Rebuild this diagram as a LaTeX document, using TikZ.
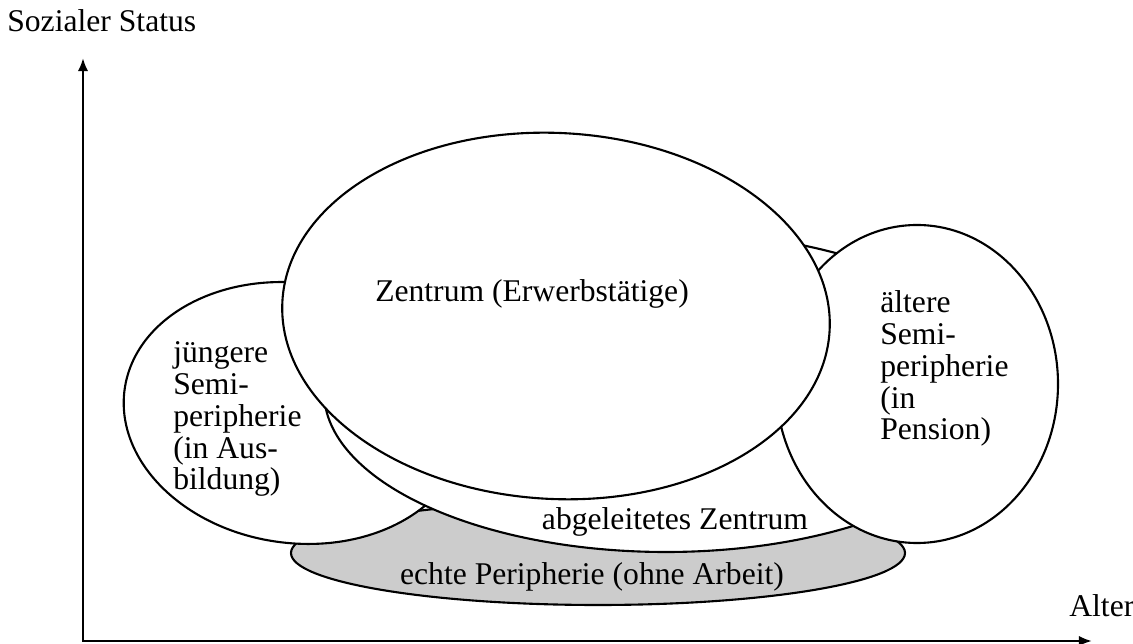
\documentclass[tikz,border=0pt]{standalone}
\usepackage{fontspec}
\setmainfont{Liberation Serif}
\usetikzlibrary{arrows.meta}
\tikzset{
  region/.style={draw, line width=1.2pt, fill=white},
  outer/.style={region, fill=black!20},
  axis/.style={line width=1.5pt},
  lbl/.style={inner sep=0pt, font=\fontsize{18pt}{18.2pt}\selectfont},
  block/.style={lbl, align=left, anchor=base west}
}

\begin{document}
\begin{tikzpicture}[x=0.02cm, y=-0.02cm, >={Latex[length=7.5pt,width=6pt]}]
\useasboundingbox (0,0) rectangle (1133,644);
% the regions
\path
  (598,553) coordinate (echte-c)
  (295,413) coordinate (junior-c)
  (666,392) coordinate (derived-c)
  (917,384) coordinate (senior-c)
  (556,316) coordinate (centre-c);
\draw[outer] (echte-c) ellipse [x radius=307, y radius=52];
\draw[region, rotate around={-8:(junior-c)}] (junior-c) ellipse [x radius=172, y radius=130];
\draw[region] (derived-c) ellipse [x radius=342, y radius=160];
\draw[region] (senior-c) ellipse [x radius=141, y radius=159];
\draw[region, rotate around={-3:(centre-c)}] (centre-c) ellipse [x radius=274, y radius=183];

% the labels (multi-line blocks sit on their last baseline)
\node[lbl, anchor=base] (centre) at (532,302) {Zentrum (Erwerbstätige)};
\node[block] (junior) at (173,490) {jüngere\\Semi-\\peripherie\\(in Aus-\\bildung)};
\node[block] (senior) at (880,440) {ältere\\Semi-\\peripherie\\(in\\Pension)};
\node[lbl, anchor=base] (derived) at (675,530) {abgeleitetes Zentrum};
\node[lbl, anchor=base] (echte) at (592,585) {echte Peripherie (ohne Arbeit)};

% the axes
\path
  (83,641) coordinate (origin)
  (83,58) coordinate (ytip)
  (1092,641) coordinate (xtip);
\draw[axis, <->] (ytip) -- (origin) -- (xtip);
\node[lbl, anchor=base west] (ylabel) at (7,32) {Sozialer Status};
\node[lbl, anchor=base west] (xlabel) at (1069,617) {Alter};
\end{tikzpicture}
\end{document}
